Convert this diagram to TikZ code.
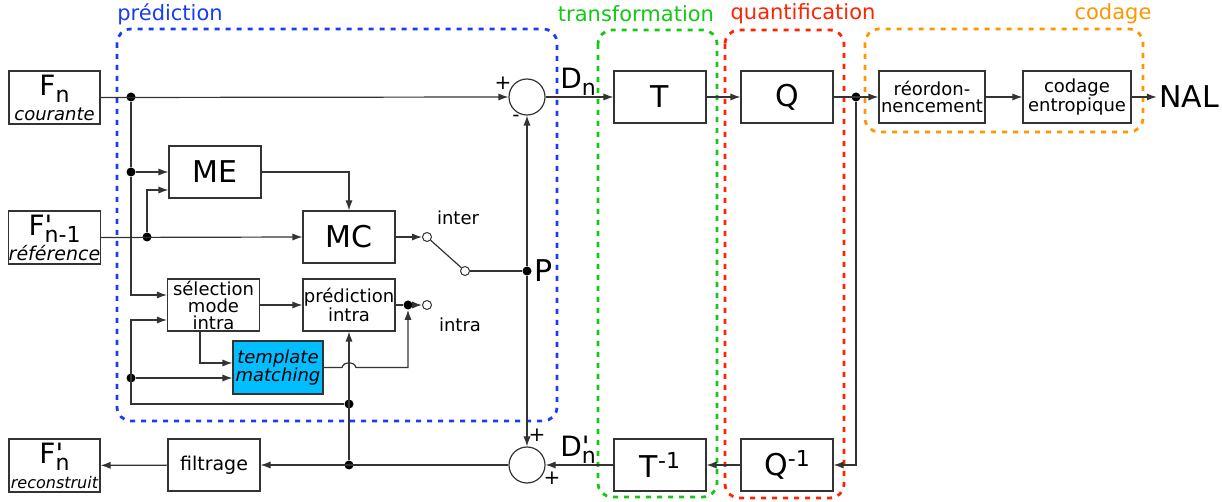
\documentclass[tikz,border=0pt]{standalone}
\usepackage{fontspec}
\setmainfont{DejaVu Sans}
\usepackage{tikz}
\usetikzlibrary{arrows.meta, positioning}

\definecolor{predblue}{RGB}{25,60,245}
\definecolor{transgreen}{RGB}{20,200,20}
\definecolor{quantred}{RGB}{255,35,0}
\definecolor{codorange}{RGB}{255,150,0}
\definecolor{tmcyan}{RGB}{0,190,255}

\newcommand{\lowsub}[1]{\raisebox{-3.5pt}[0pt][0pt]{\fontsize{11}{11}\selectfont #1}}
\newcommand{\highsup}[1]{\raisebox{4.5pt}{\fontsize{11}{11}\selectfont #1}}
\newcommand{\primemark}{\rlap{\textquotesingle}}

\begin{document}
\begin{tikzpicture}[
    x=0.5pt, y=-0.5pt,
    block/.style={draw=black!80, line width=0.6pt, minimum width=46pt, minimum height=26pt, inner sep=0pt, align=center},
    bigblock/.style={block, font=\fontsize{15}{15}\selectfont},
    smallblock/.style={block, font=\fontsize{9}{8.5}\selectfont},
    signalbox/.style={block, minimum width=45.5pt, minimum height=26.5pt, font=\fontsize{9}{12.5}\selectfont},
    sum/.style={circle, draw=black!80, line width=0.6pt, minimum size=18pt, inner sep=0pt},
    dot/.style={circle, fill=black, inner sep=0pt, minimum size=4.5pt},
    contact/.style={circle, draw=black!80, fill=white, line width=0.5pt, inner sep=0pt, minimum size=4.5pt},
    arrow/.style={-{Latex[length=5pt,width=3.6pt]}, line width=0.6pt, black!80},
    link/.style={line width=0.6pt, black!80},
    group/.style={dash pattern=on 2.5pt off 3pt, line width=1.4pt, rounded corners=7pt},
    grouplabel/.style={font=\fontsize{10.5}{10.5}\selectfont, inner sep=0pt},
    sign/.style={font=\fontsize{10}{10}\selectfont, inner sep=0pt},
    biglabel/.style={font=\fontsize{15}{15}\selectfont, inner sep=1pt}
]
    \useasboundingbox (0,0) rectangle (1222,502);

    % groups
    \draw[group, predblue] (117,29) rectangle (557,421);
    \draw[group, transgreen] (598,30) rectangle (717,497);
    \draw[group, quantred] (725,30) rectangle (844,498);
    \draw[group, codorange] (865,29) rectangle (1143,132);
    \node[grouplabel, text=predblue] (lpred) at (170,14) {prédiction};
    \node[grouplabel, text=transgreen] (ltrans) at (636,14) {transformation};
    \node[grouplabel, text=quantred] (lquant) at (803,14) {quantification};
    \node[grouplabel, text=codorange] (lcod) at (1113,14) {codage};

    % frames
    \node[signalbox] (cur) at (54.5,97.5) {{\fontsize{14}{12.5}\selectfont F\lowsub{n}}\\{\itshape courante}};
    \node[signalbox] (ref) at (54.5,237.5) {{\fontsize{14}{12.5}\selectfont F\primemark\lowsub{n-1}}\\{\fontsize{9.5}{12.5}\selectfont\itshape référence}};
    \node[signalbox] (rec) at (54.5,465.5) {{\fontsize{14}{12.5}\selectfont F\primemark\lowsub{n}}\\{\fontsize{8}{12.5}\selectfont\itshape reconstruit}};

    % blocks
    \node[bigblock] (me) at (215,172) {ME};
    \node[bigblock] (mc) at (349,237) {MC};
    \node[smallblock] (sel) at (213.5,305) {sélection\\mode\\intra};
    \node[smallblock] (pintra) at (349,305) {prédiction\\intra};
    \node[smallblock, fill=tmcyan, minimum width=45pt, minimum height=26.5pt, font=\fontsize{9}{9}\selectfont\itshape] (tm) at (278,367.5) {template\\matching};
    \node[block, font=\fontsize{9.5}{9.5}\selectfont] (filt) at (214,465) {filtrage};
    \node[bigblock] (t) at (660,97) {T};
    \node[bigblock] (q) at (787,97) {Q};
    \node[bigblock] (tinv) at (660,465) {T\highsup{-1}};
    \node[bigblock] (qinv) at (787,465) {Q\highsup{-1}};
    \node[smallblock, minimum width=53pt] (reord) at (932,97) {réordon-\\nencement};
    \node[smallblock, minimum width=54pt] (codent) at (1077,97) {codage\\entropique};
    \node[biglabel] (nal) at (1189,97) {NAL};

    % sums and switch
    \node[sum] (sum1) at (527,97) {};
    \node[sum] (sum2) at (527,465) {};
    \node[sign] (s1a) at (503,83) {+};
    \node[sign] (s1b) at (516,118) {-};
    \node[sign] (s2a) at (537,435) {+};
    \node[sign] (s2b) at (552,478) {+};
    \node[contact] (cinter) at (427,237) {};
    \node[contact] (cswitch) at (465,271) {};
    \node[contact] (cintra) at (427,305) {};
    \node[font=\fontsize{9}{9}\selectfont] (linter) at (458,218) {inter};
    \node[font=\fontsize{9}{9}\selectfont] (lintra) at (460,325) {intra};
    \node[dot] (p) at (527,271) {};
    \node[biglabel, right=0pt of p] (plabel) {P};
    \node[font=\fontsize{14}{14}\selectfont] (ldn) at (578,78) {D\lowsub{n}};
    \node[font=\fontsize{14}{14}\selectfont] (ldnr) at (578,446) {D\primemark\lowsub{n}};

    % junctions
    \node[dot] (dcur) at (131,97) {};
    \node[dot] (dme) at (131,172) {};
    \node[dot] (dref) at (147,237) {};
    \node[dot] (dq) at (856,97) {};
    \node[dot] (dfilt) at (349,465) {};
    \node[dot] (dloop) at (349,404) {};
    \node[dot] (dtm) at (131,378) {};
    \node[dot] (dint) at (408,305) {};
    \coordinate (cloop) at (131,404);
    \coordinate (hopa) at (342,367.5);
    \coordinate (hopb) at (356,367.5);
    \coordinate (tmturn) at (408,367.5);

    % forward path
    \draw[arrow] (cur.east) -- (sum1.west);
    \draw[link] (dcur) -- (dme);
    \draw[arrow] (dme) -- (me.west);
    \draw[arrow] (dme) |- ([yshift=5pt]sel.west);
    \draw[arrow] (ref.east) -- (mc.west);
    \draw[arrow] (dref) |- ([yshift=-9pt]me.west);
    \draw[arrow] (me.east) -| (mc.north);
    \draw[arrow] (mc.east) -- (cinter);
    \draw[link] (cinter) -- (cswitch);
    \draw[link] (cswitch) -- (p);
    \draw[arrow] (p) -- (sum1.south);
    \draw[arrow] (p) -- (sum2.north);
    \draw[arrow] (sum1.east) -- (t.west);
    \draw[arrow] (t) -- (q);
    \draw[arrow] (q.east) -- (reord.west);
    \draw[arrow] (reord) -- (codent);
    \draw[arrow] (codent) -- (nal);

    % reconstruction loop
    \draw[arrow] (dq) |- (qinv.east);
    \draw[arrow] (qinv) -- (tinv);
    \draw[arrow] (tinv) -- (sum2);
    \draw[arrow] (sum2) -- (filt);
    \draw[arrow] (filt) -- (rec);
    \draw[arrow] (dfilt) -- (pintra.south);
    \draw[arrow] (dloop) -- (cloop) |- ([yshift=-7.5pt]sel.west);
    \draw[arrow] (dtm) -- (dtm -| tm.west);
    \draw[arrow] ([xshift=-6.75pt]sel.south) |- ([yshift=2.25pt]tm.west);
    \draw[arrow] (sel) -- (pintra);
    \draw[link] (pintra.east) -- (dint);
    \draw[arrow] (dint) -- (cintra);
    \draw[arrow] (tm.east) -- (hopa) .. controls (344,361) and (354,361) .. (hopb) -- (tmturn) -- (dint);

\end{tikzpicture}
\end{document}
